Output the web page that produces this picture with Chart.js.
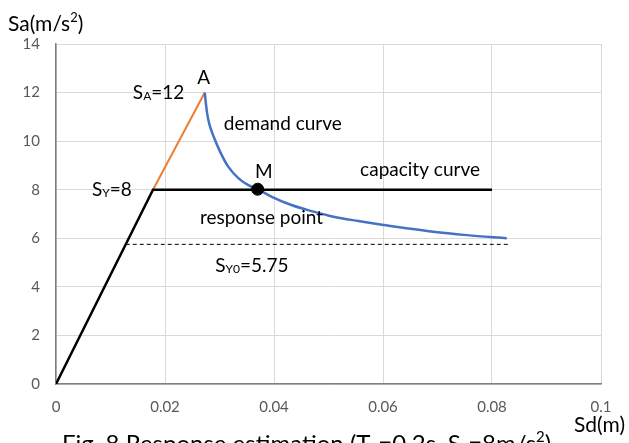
<!DOCTYPE html>
<html><head><meta charset="utf-8">
<script src="https://cdn.jsdelivr.net/npm/chart.js@4.4.0/dist/chart.umd.min.js"></script>
<style>html,body{margin:0;padding:0;background:#fff;}#wrap{width:629px;height:443px;position:relative;}</style>
</head><body><div id="wrap"><canvas id="c" width="629" height="443"></canvas></div>
<script>
// Capacity curve (Sd, Sa)
const capacitySd = [0, 0.0178, 0.080];
const capacitySa = [0, 8, 8];
// Elastic branch to point A
const elasticSd = [0.0178, 0.0273];
const elasticSa = [8, 12];
// Demand curve
const demandSd = [0.0273, 0.0275, 0.0278, 0.0282, 0.0289, 0.0301, 0.0316, 0.0335, 0.0353, 0.0370, 0.0396, 0.0432, 0.0469, 0.0509, 0.0555, 0.0601, 0.0692, 0.0754, 0.0827];
const demandSa = [12.0, 11.55, 11.05, 10.65, 10.2, 9.57, 8.95, 8.47, 8.19, 8.02, 7.71, 7.37, 7.12, 6.89, 6.71, 6.55, 6.27, 6.13, 6.00];
// Dashed line at SY0
const dashSd = [0.0128, 0.0833];
const dashSa = [5.75, 5.75];
// Response point M
const responseSd = [0.0370];
const responseSa = [8.02];

const xTicks = [0, 0.02, 0.04, 0.06, 0.08, 0.1];
const yTicks = [0, 2, 4, 6, 8, 10, 12, 14];

const pts = (xs, ys) => xs.map((x, i) => ({x, y: ys[i]}));
const FONT = 'Lato, "Open Sans", sans-serif';

// annotation texts: [main, sub, rest, xData, yData(baseline)]
const notes = [
  ['A', '', '', 0.0259, 12.35],
  ['S', 'A', '=12', 0.0141, 11.73],
  ['demand curve', '', '', 0.0308, 10.46],
  ['M', '', '', 0.0365, 8.48],
  ['capacity curve', '', '', 0.0558, 8.56],
  ['S', 'Y', '=8', 0.0066, 7.74],
  ['response point', '', '', 0.0264, 6.59],
  ['S', 'Y0', '=5.75', 0.0292, 4.61]
];

function drawSub(ctx, x, y, main, sub, rest, size) {
  ctx.font = size + 'px ' + FONT;
  ctx.fillText(main, x, y);
  let w = ctx.measureText(main).width;
  if (sub) {
    ctx.font = Math.round(size * 0.62) + 'px ' + FONT;
    ctx.fillText(sub, x + w, y + 1);
    w += ctx.measureText(sub).width;
    ctx.font = size + 'px ' + FONT;
  }
  if (rest) ctx.fillText(rest, x + w, y);
}

const textPlugin = {
  id: 'texts',
  afterDraw(chart) {
    const ctx = chart.ctx, xs = chart.scales.x, ys = chart.scales.y;
    ctx.save();
    ctx.fillStyle = '#000';
    ctx.textBaseline = 'alphabetic';
    ctx.textAlign = 'left';
    notes.forEach(n => {
      drawSub(ctx, xs.getPixelForValue(n[3]), ys.getPixelForValue(n[4]), n[0], n[1], n[2], 19);
    });
    // axis titles
    ctx.font = '21px ' + FONT;
    ctx.fillText('Sa(m/s', 8, 31);
    let w = ctx.measureText('Sa(m/s').width;
    ctx.font = '13px ' + FONT;
    ctx.fillText('2', 8 + w, 22);
    let w2 = ctx.measureText('2').width;
    ctx.font = '21px ' + FONT;
    ctx.fillText(')', 8 + w + w2, 31);
    ctx.fillText('Sd(m)', 574, 432);
    // caption (clipped at bottom)
    let x = 62, y = 452;
    const seg = [['Fig. 8 Response estimation (T', 0], ['g', 1], ['=0.2s, S', 0], ['a', 1], ['=8m/s', 0], ['2', 2], [')', 0]];
    seg.forEach(s => {
      if (s[1] === 0) { ctx.font = '24px ' + FONT; ctx.fillText(s[0], x, y); }
      else if (s[1] === 1) { ctx.font = '15px ' + FONT; ctx.fillText(s[0], x, y + 3); }
      else { ctx.font = '15px ' + FONT; ctx.fillText(s[0], x, y - 10); }
      x += ctx.measureText(s[0]).width;
    });
    ctx.restore();
  }
};

new Chart(document.getElementById('c'), {
  type: 'scatter',
  data: {
    datasets: [
      {data: pts(dashSd, dashSa), showLine: true, borderColor: '#000', borderWidth: 1, borderDash: [4, 3], pointRadius: 0, order: 4},
      {data: pts(elasticSd, elasticSa), showLine: true, borderColor: '#ED7D31', borderWidth: 2, pointRadius: 0, order: 3},
      {data: pts(capacitySd, capacitySa), showLine: true, borderColor: '#000', borderWidth: 2.5, pointRadius: 0, order: 2},
      {data: pts(demandSd, demandSa), showLine: true, borderColor: '#4472C4', borderWidth: 2.5, pointRadius: 0, cubicInterpolationMode: 'monotone', order: 1},
      {data: pts(responseSd, responseSa), showLine: false, backgroundColor: '#000', borderColor: '#000', pointRadius: 6, order: 0}
    ]
  },
  options: {
    responsive: false,
    animation: false,
    layout: {padding: {top: 44, right: 28, left: 0, bottom: 0}},
    plugins: {legend: {display: false}, tooltip: {enabled: false}},
    scales: {
      x: {
        type: 'linear', min: 0, max: 0.1,
        afterBuildTicks: s => { s.ticks = xTicks.map(v => ({value: v})); },
        afterFit: s => { s.height = 59; },
        grid: {color: '#d9d9d9', lineWidth: 1, drawTicks: false},
        border: {color: '#7f7f7f', width: 1.5},
        ticks: {color: '#595959', font: {family: FONT, size: 15}, padding: 14, maxRotation: 0,
          callback: v => String(v)}
      },
      y: {
        type: 'linear', min: 0, max: 14,
        afterBuildTicks: s => { s.ticks = yTicks.map(v => ({value: v})); },
        afterFit: s => { s.width = 56; },
        grid: {color: '#d9d9d9', lineWidth: 1, drawTicks: false},
        border: {color: '#7f7f7f', width: 1.5},
        ticks: {color: '#595959', font: {family: FONT, size: 15}, padding: 16}
      }
    }
  },
  plugins: [textPlugin]
});
</script></body></html>
